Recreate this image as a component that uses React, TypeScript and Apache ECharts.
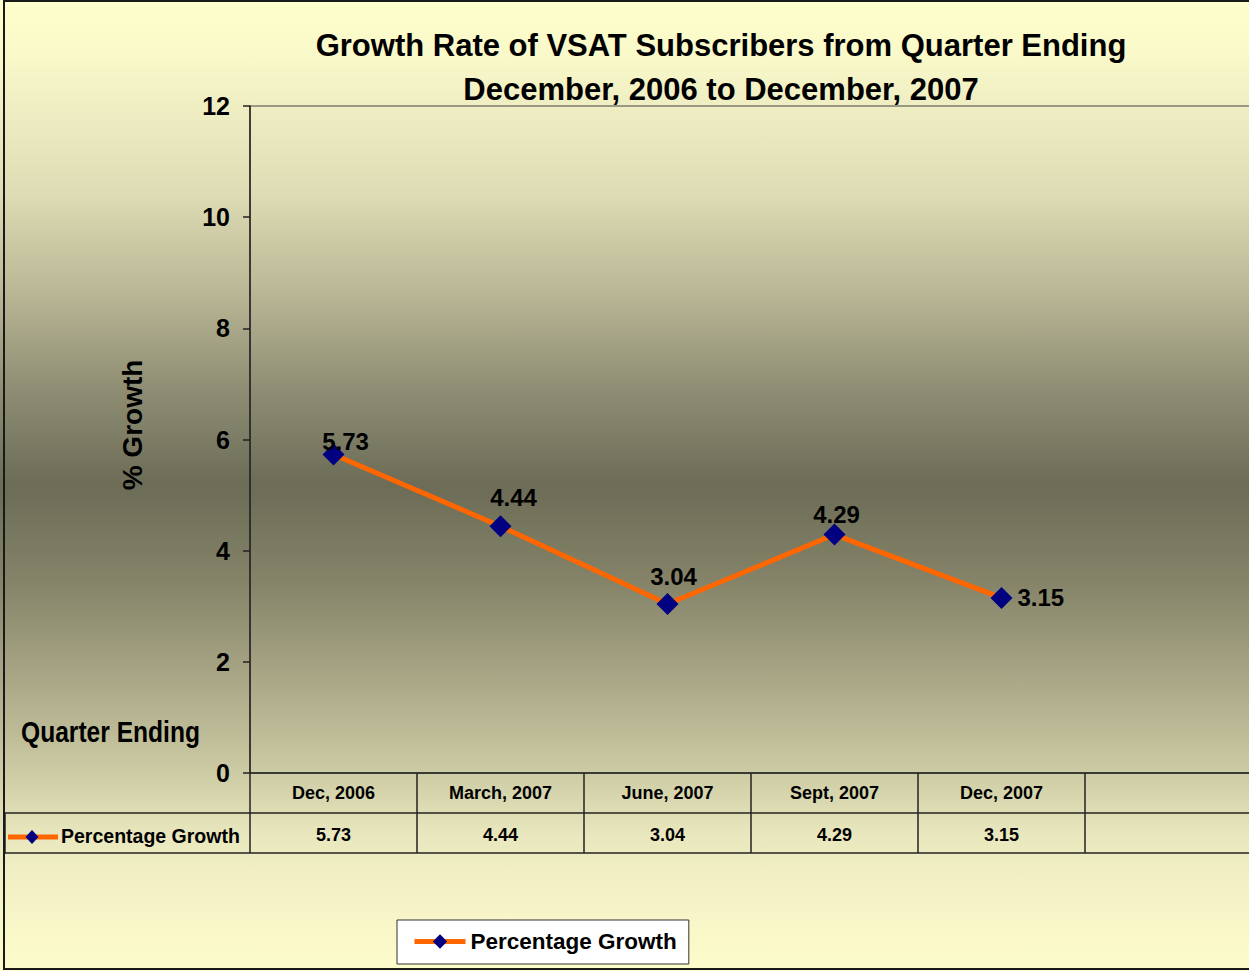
import React, { useEffect, useRef } from "react";
import * as echarts from "echarts";

// Quarter-ending categories (the trailing empty slot is an unused table column)
const quarters = ["Dec, 2006", "March, 2007", "June, 2007", "Sept, 2007", "Dec, 2007", ""];
// Quarterly growth rate of VSAT subscribers, %
const growth = [5.73, 4.44, 3.04, 4.29, 3.15];
const seriesName = "Percentage Growth";
const titleLines = [
  "Growth Rate of VSAT Subscribers from Quarter Ending",
  "December, 2006 to December, 2007",
];
const yAxisTitle = "% Growth";
const xAxisTitle = "Quarter Ending";
const yMin = 0;
const yMax = 12;
const yStep = 2;

const SANS = "'Liberation Sans', Arial, Helvetica, sans-serif";

// Where each value label sits relative to its marker
const labelPlacement: { position: string; offset: number[] }[] = [
  { position: "top", offset: [12, 15] },
  { position: "top", offset: [13, -1] },
  { position: "top", offset: [6, 0] },
  { position: "top", offset: [2, 8] },
  { position: "right", offset: [0, 0] },
];

const LINE = "#222";

function buildOption(): echarts.EChartsOption {
  const bg = new echarts.graphic.LinearGradient(0, 0, 0, 1, [
    { offset: 0, color: "#FFFFCC" },
    { offset: 0.06, color: "#F9F8C9" },
    { offset: 0.11, color: "#EFEEC3" },
    { offset: 0.2, color: "#DEDCB4" },
    { offset: 0.3, color: "#B9B795" },
    { offset: 0.4, color: "#8F8E74" },
    { offset: 0.5, color: "#6C6C57" },
    { offset: 0.6, color: "#858469" },
    { offset: 0.7, color: "#A9A786" },
    { offset: 0.8, color: "#CFCDA6" },
    { offset: 0.86, color: "#E9E7BD" },
    { offset: 0.93, color: "#F6F4C7" },
    { offset: 1, color: "#FDFCCB" },
  ]);

  const tableLabel = {
    interval: 0,
    fontFamily: SANS,
    fontWeight: "bold" as const,
    fontSize: 18,
    color: "#000",
    margin: 13,
  };

  return {
    animation: false,
    backgroundColor: bg,
    textStyle: { fontFamily: SANS },
    title: {
      text: titleLines.join("\n"),
      left: 721,
      top: 23,
      textAlign: "center",
      padding: 0,
      textStyle: {
        fontFamily: SANS,
        fontWeight: "bold",
        fontSize: 31,
        lineHeight: 44,
        color: "#000",
      },
    },
    legend: {
      left: 397,
      top: 920,
      orient: "horizontal",
      backgroundColor: "#fff",
      borderColor: "#333",
      borderWidth: 1,
      borderRadius: 0,
      padding: [10, 12, 11, 15],
      itemWidth: 51,
      itemHeight: 18,
      lineStyle: { width: 5 },
      textStyle: { fontFamily: SANS, fontWeight: "bold", fontSize: 22.5, color: "#000" },
      data: [seriesName],
    },
    grid: {
      left: 250,
      top: 106,
      width: 1002,
      height: 667,
      show: true,
      borderColor: "#444",
      borderWidth: 1,
      backgroundColor: "transparent",
      outerBoundsMode: "none",
    } as any,
    xAxis: [
      {
        type: "category",
        data: quarters,
        boundaryGap: true,
        position: "bottom",
        axisLine: { show: true, lineStyle: { color: LINE, width: 1.5 } },
        axisTick: { show: true, interval: 0, length: 80, lineStyle: { color: LINE, width: 1.5 } },
        axisLabel: { ...tableLabel, margin: 11 },
        splitLine: { show: false },
      },
      {
        type: "category",
        data: [...growth.map((v) => v.toFixed(2)), ""],
        boundaryGap: true,
        position: "bottom",
        offset: 40,
        axisLine: { show: true, lineStyle: { color: LINE, width: 1.5 } },
        axisTick: { show: false },
        axisLabel: tableLabel,
        splitLine: { show: false },
      },
    ],
    yAxis: {
      type: "value",
      min: yMin,
      max: yMax,
      interval: yStep,
      splitLine: { show: false },
      axisLine: { show: true, lineStyle: { color: LINE, width: 1.5 } },
      axisTick: { show: true, length: 7, lineStyle: { color: LINE, width: 1.5 } },
      axisLabel: {
        fontFamily: SANS,
        fontWeight: "bold",
        fontSize: 25,
        color: "#000",
        margin: 20,
      },
    },
    series: [
      {
        type: "line",
        name: seriesName,
        xAxisIndex: 0,
        data: growth.map((v, i) => ({
          value: v,
          label: { position: labelPlacement[i].position as any, offset: labelPlacement[i].offset },
        })),
        symbol: "diamond",
        symbolSize: 22,
        itemStyle: { color: "#000080" },
        lineStyle: { color: "#FF6600", width: 5 },
        label: {
          show: true,
          position: "top",
          distance: 5,
          fontFamily: SANS,
          fontWeight: "bold",
          fontSize: 24,
          color: "#000",
        },
        z: 3,
      },
    ],
    graphic: [
      // outer frame
      {
        type: "rect",
        shape: { x: 4, y: 1, width: 1262, height: 968 },
        style: { fill: "none", stroke: "#1a1a1a", lineWidth: 2 },
        z: 100,
      },
      // data-table row borders left of the plot
      {
        type: "line",
        shape: { x1: 5, y1: 813, x2: 250, y2: 813 },
        style: { stroke: LINE, lineWidth: 1.5 },
      },
      {
        type: "line",
        shape: { x1: 5, y1: 853, x2: 1252, y2: 853 },
        style: { stroke: LINE, lineWidth: 1.5 },
      },
      {
        type: "line",
        shape: { x1: 5, y1: 813, x2: 5, y2: 853 },
        style: { stroke: LINE, lineWidth: 1.5 },
      },
      // series key in the table row
      {
        type: "line",
        shape: { x1: 8, y1: 837, x2: 58, y2: 837 },
        style: { stroke: "#FF6600", lineWidth: 5 },
      },
      {
        type: "polygon",
        shape: { points: [[32, 830], [38.5, 837], [32, 844], [25.5, 837]] },
        style: { fill: "#000080" },
      },
      {
        type: "text",
        x: 61,
        y: 836,
        style: {
          text: seriesName,
          fill: "#000",
          font: `bold 19.5px ${SANS}`,
          textAlign: "left",
          textVerticalAlign: "middle",
          align: "left",
          verticalAlign: "middle",
        } as any,
      },
      // axis titles
      {
        type: "text",
        x: 21,
        y: 732,
        scaleX: 0.82,
        style: {
          text: xAxisTitle,
          fill: "#000",
          font: `bold 30px ${SANS}`,
          textAlign: "left",
          textVerticalAlign: "middle",
          align: "left",
          verticalAlign: "middle",
        } as any,
      },
      {
        type: "text",
        x: 132,
        y: 425,
        rotation: Math.PI / 2,
        style: {
          text: yAxisTitle,
          fill: "#000",
          font: `bold 28px ${SANS}`,
          textAlign: "center",
          textVerticalAlign: "middle",
          align: "center",
          verticalAlign: "middle",
        } as any,
      },
    ],
  } as echarts.EChartsOption;
}

export default function App() {
  const ref = useRef<HTMLDivElement>(null);
  useEffect(() => {
    if (!ref.current) return;
    const chart = echarts.init(ref.current, null, { renderer: "svg" });
    chart.setOption(buildOption());
    return () => chart.dispose();
  }, []);
  return (
    <div
      ref={ref}
      style={{ position: "absolute", left: 0, top: 0, width: 1249, height: 971, overflow: "hidden" }}
    />
  );
}
